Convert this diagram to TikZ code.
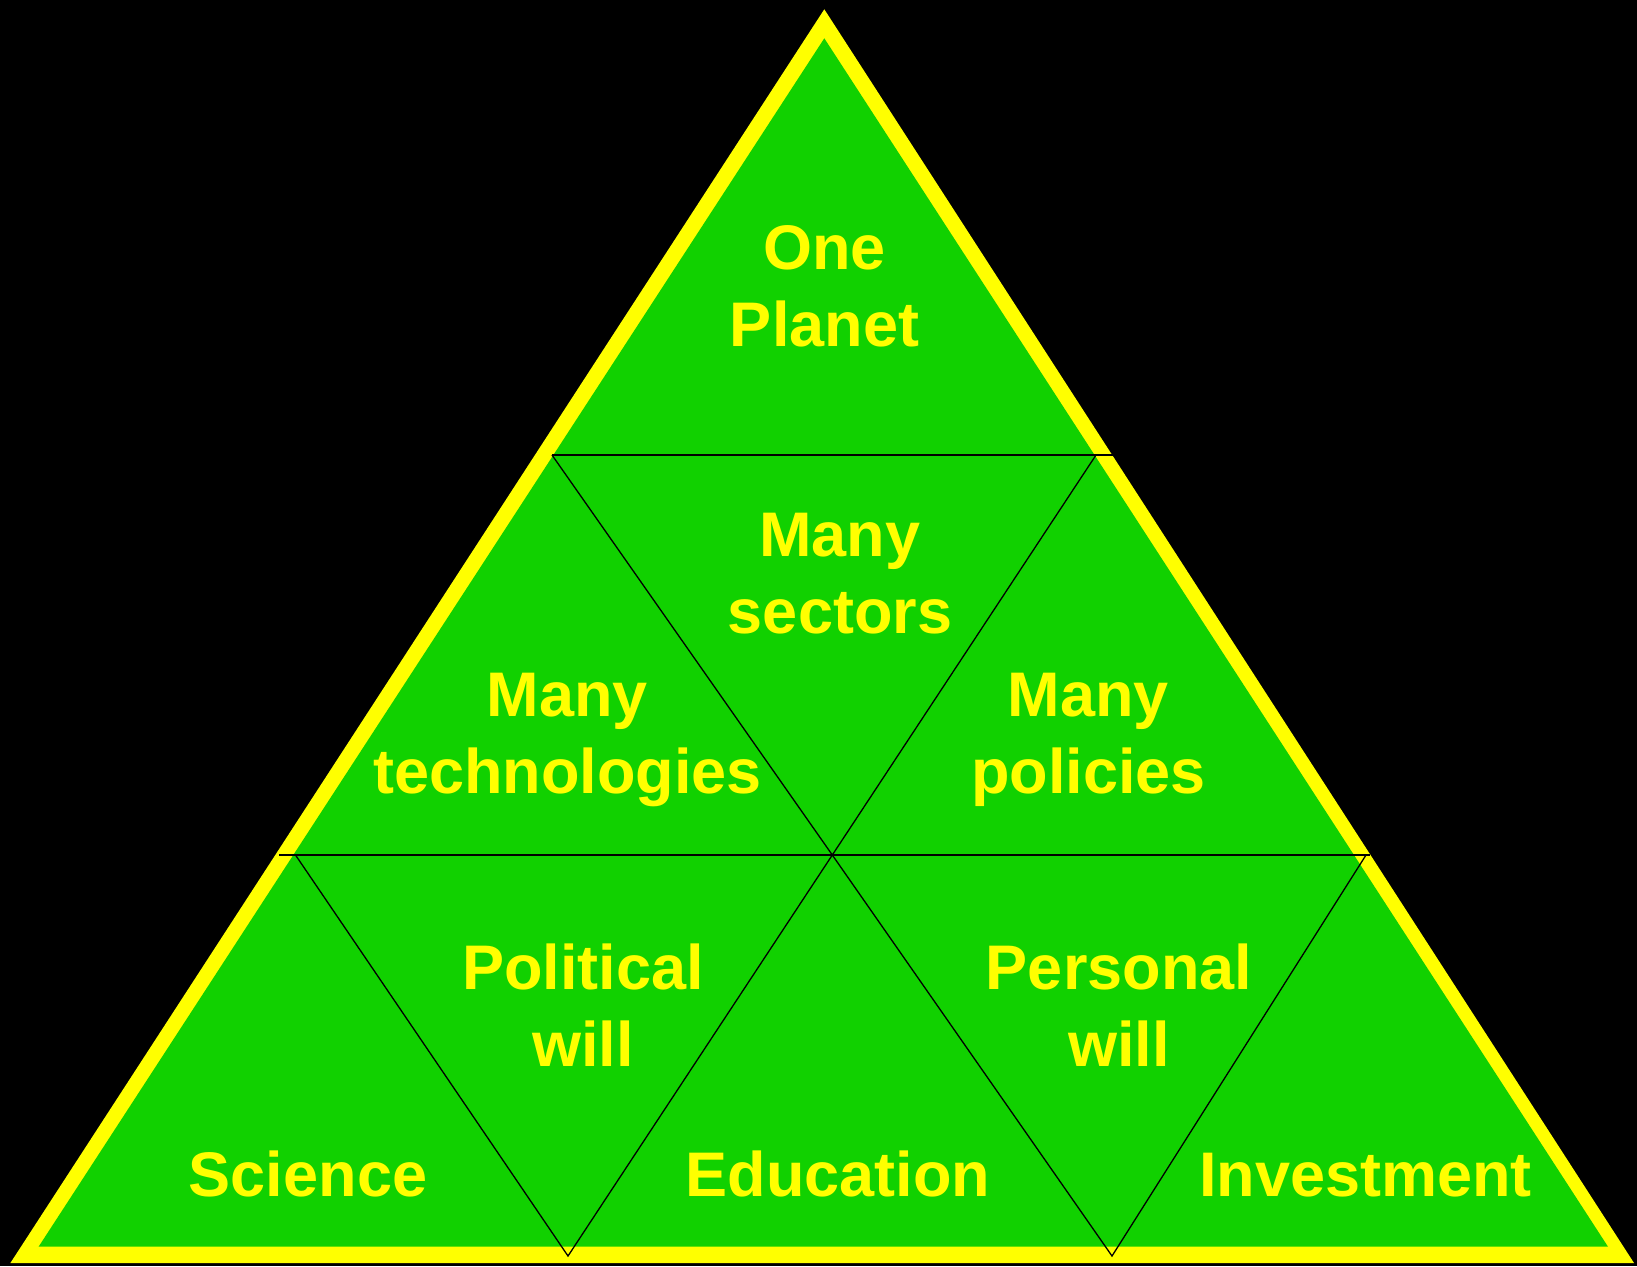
\documentclass[tikz,border=0pt]{standalone}
\usepackage{fontspec}
\setmainfont{Liberation Sans}
\definecolor{leaf}{RGB}{17,209,0}
\definecolor{sun}{RGB}{255,255,0}
\begin{document}
\begin{tikzpicture}[x=1pt,y=-1pt,
  lbl/.style={text=sun,font=\bfseries\fontsize{63}{77}\selectfont,align=center,anchor=base,inner sep=0pt},
  seam/.style={draw=black,line width=1.3pt},
  rule/.style={draw=black,line width=2pt}]
\useasboundingbox (0,0) rectangle (1637,1266);
\fill[black] (0,0) rectangle (1637,1266);
% outer yellow frame and green interior
\fill[sun] (824.3,9.3) -- (10.4,1263) -- (1634,1263) -- cycle;
\fill[leaf] (824.3,38.3) -- (38.6,1246.7) -- (1608,1246.7) -- cycle;
% key points
\coordinate (tl) at (552,455);
\coordinate (tr) at (1096,455);
\coordinate (trx) at (1113,455);
\coordinate (mc) at (832.3,855);
\coordinate (bl) at (295.5,855);
\coordinate (blx) at (279,855);
\coordinate (br) at (1366,855);
\coordinate (brx) at (1370,855);
\coordinate (t1) at (568,1256);
\coordinate (t2) at (1112,1256);
% horizontal rules
\draw[rule] (tl) -- (trx);
\draw[rule] (blx) -- (brx);
% inverted triangles
\draw[seam,line join=miter] (tl) -- (mc) -- (tr);
\draw[seam,line join=miter] (bl) -- (t1) -- (mc);
\draw[seam,line join=miter] (mc) -- (t2) -- (br);
% labels (anchor = baseline of last line)
\node[lbl] (planet) at (824.5,346) {One\\Planet};
\node[lbl] (sectors) at (840,633) {Many\\sectors};
\node[lbl] (tech) at (567.5,793) {Many\\technologies};
\node[lbl] (pol) at (1088.5,793) {Many\\policies};
\node[lbl] (polwill) at (583,1066) {Political\\will};
\node[lbl] (perwill) at (1119,1066) {Personal\\will};
\node[lbl] (sci) at (308,1196) {Science};
\node[lbl] (edu) at (838,1196) {Education};
\node[lbl] (inv) at (1365.5,1196) {Investment};
\end{tikzpicture}
\end{document}
